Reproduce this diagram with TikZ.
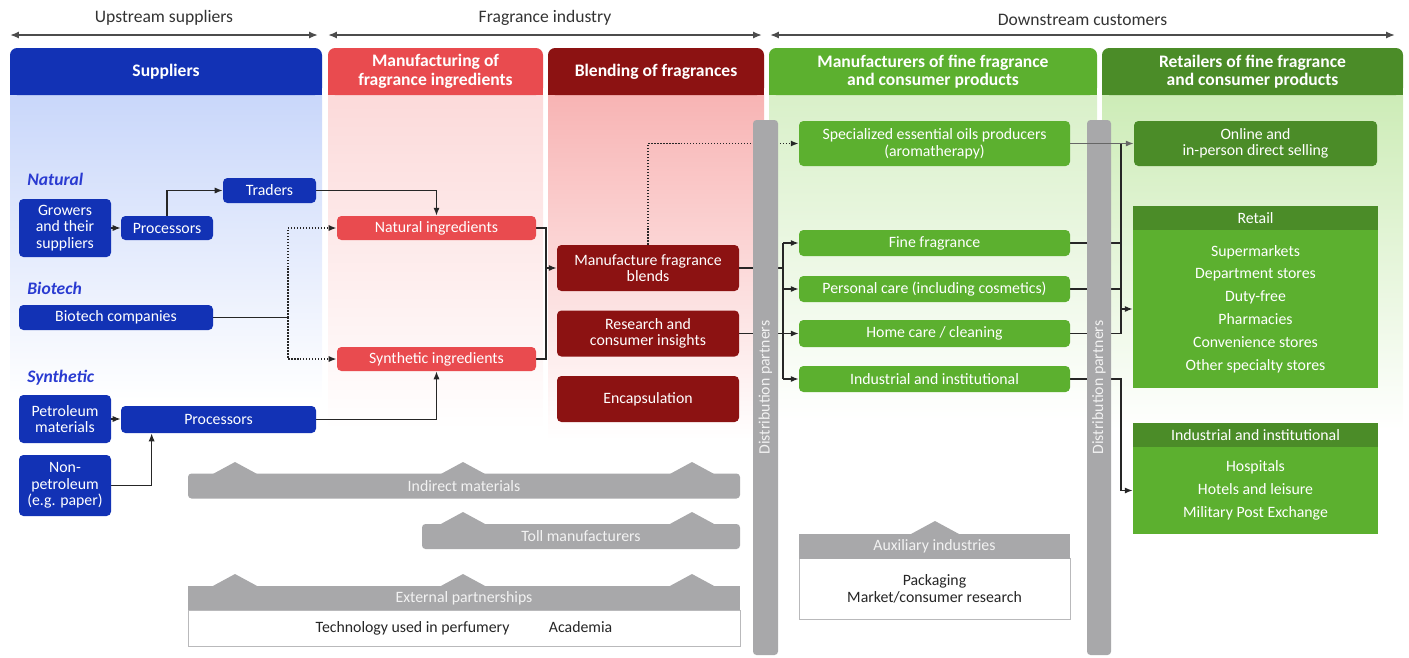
\documentclass[tikz,border=0pt]{standalone}
\usepackage{fontspec}
\setmainfont{Carlito}
\usepackage{tikz}
\usetikzlibrary{arrows.meta, positioning, backgrounds}
\definecolor{supplierBlue}{HTML}{1232B5}
\definecolor{ingredientRed}{HTML}{E94B4F}
\definecolor{blendRed}{HTML}{8C1212}
\definecolor{makerGreen}{HTML}{5CB02F}
\definecolor{retailGreen}{HTML}{4B8C28}
\definecolor{barGray}{HTML}{A8A8AA}
\definecolor{groupBlue}{HTML}{2A3BD1}
\definecolor{supplierTint}{HTML}{C9D7FA}
\definecolor{ingredientTint}{HTML}{FCDADA}
\definecolor{blendTint}{HTML}{F8B4B4}
\definecolor{makerTint}{HTML}{D9F0C9}
\definecolor{retailTint}{HTML}{CDECB7}
\newdimen\pxu \pxu=0.02cm
\newcommand\bodyfont{\fontsize{9}{9.5}\selectfont}
\newcommand\listfont{\fontsize{9}{13}\selectfont}
\newcommand\headfont{\fontsize{10}{10.5}\selectfont\bfseries}
\newcommand\groupfont{\fontsize{10}{12}\selectfont\bfseries\itshape}
\newcommand\spanfont{\fontsize{10}{12}\selectfont}
\pgfdeclarelayer{shade}
\pgfdeclarelayer{wires}
\pgfsetlayers{shade,wires,main}

\begin{document}
\begin{tikzpicture}[x=0.02cm, y=-0.02cm,
    box/.style 2 args={minimum width=#1\pxu, minimum height=#2\pxu, inner sep=0pt, align=center, text=white, rounded corners=2.5pt, font=\bodyfont},
    head/.style={minimum width=#1\pxu, minimum height=47\pxu, inner sep=0pt, align=center, text=white, rounded corners=4pt, font=\headfont},
    group/.style={anchor=west, inner sep=0pt, text=groupBlue, font=\groupfont},
    bar/.style 2 args={minimum width=#1\pxu, minimum height=#2\pxu, inner sep=0pt, fill=barGray, text=white!95!black, rounded corners=2pt, font=\bodyfont},
    panel/.style 2 args={minimum width=#1\pxu, minimum height=#2\pxu, inner sep=0pt, align=center, fill=white, draw=barGray!80, line width=0.5pt, text=black!85, font=\bodyfont},
    wire/.style={line width=0.7pt, black!85},
    arrow/.style={wire, -{Latex[length=4.5pt, width=3.5pt]}},
    dotarrow/.style={arrow, densely dotted, line width=0.9pt},
    span/.style={{Latex[length=5pt, width=4pt]}-{Latex[length=5pt, width=4pt]}, line width=1.4pt, black!70},
]
    \useasboundingbox (0,0) rectangle (1409,657);

    % spans over the chain
    \foreach \a/\b/\t in {10/318/Upstream suppliers, 328/762/Fragrance industry, 770/1395/Downstream customers}
        \draw[span] (\a,35) -- (\b,35) node[midway, above=1.5pt, font=\spanfont, text=black!80] {\t};

    % column headers
    \node[head=312, fill=supplierBlue] (suppliers) at (166,71.5) {Suppliers};
    \node[head=215, fill=ingredientRed] (ingredients) at (435.5,71.5) {Manufacturing of\\fragrance ingredients};
    \node[head=216, fill=blendRed] (blending) at (656,71.5) {Blending of fragrances};
    \node[head=328, fill=makerGreen] (makers) at (933,71.5) {Manufacturers of fine fragrance\\and consumer products};
    \node[head=301, fill=retailGreen] (retailers) at (1252.5,71.5) {Retailers of fine fragrance\\and consumer products};

    \begin{pgfonlayer}{shade}
        \fill[supplierBlue] (suppliers.west) rectangle (suppliers.south east);
        \fill[ingredientRed] (ingredients.west) rectangle (ingredients.south east);
        \fill[blendRed] (blending.west) rectangle (blending.south east);
        \fill[makerGreen] (makers.west) rectangle (makers.south east);
        \fill[retailGreen] (retailers.west) rectangle (retailers.south east);
        \shade[top color=supplierTint, bottom color=white] (10,95) rectangle (322,400);
        \shade[top color=ingredientTint, bottom color=white] (328,95) rectangle (543,430);
        \shade[top color=blendTint, bottom color=white] (548,95) rectangle (764,440);
        \shade[top color=makerTint, bottom color=white] (769,95) rectangle (1097,420);
        \shade[top color=retailTint, bottom color=white] (1102,95) rectangle (1403,430);
    \end{pgfonlayer}

    % suppliers
    \node[group] (natural) at (27,179) {Natural};
    \node[group] (biotechLbl) at (27,288) {Biotech};
    \node[group] (synthetic) at (27,378) {Synthetic};
    \node[box={92}{58}, fill=supplierBlue] (growers) at (65,228) {Growers\\and their\\suppliers};
    \node[box={92}{24}, fill=supplierBlue] (procNat) at (167,228) {Processors};
    \node[box={93}{25}, fill=supplierBlue] (traders) at (269.5,190.5) {Traders};
    \node[box={194}{25}, fill=supplierBlue] (biotech) at (116,317.5) {Biotech companies};
    \node[box={92}{48}, fill=supplierBlue] (petroleum) at (65,419) {Petroleum\\materials};
    \node[box={195}{27}, fill=supplierBlue] (procSyn) at (218.5,419.5) {Processors};
    \node[box={92}{61}, fill=supplierBlue] (nonpetro) at (65,485.5) {Non-\\petroleum\\(e.g. paper)};

    % ingredients and blending
    \node[box={199}{24}, fill=ingredientRed] (natIngr) at (436.5,228) {Natural ingredients};
    \node[box={199}{24}, fill=ingredientRed] (synIngr) at (436.5,359) {Synthetic ingredients};
    \node[box={182}{46}, fill=blendRed] (blends) at (648,268) {Manufacture fragrance\\blends};
    \node[box={182}{46}, fill=blendRed] (insights) at (648,333.5) {Research and\\consumer insights};
    \node[box={182}{46}, fill=blendRed] (encaps) at (648,399) {Encapsulation};

    % manufacturers
    \node[box={271}{45}, fill=makerGreen] (oils) at (934.5,143.5) {Specialized essential oils producers\\(aromatherapy)};
    \node[box={271}{26}, fill=makerGreen] (fine) at (934.5,243) {Fine fragrance};
    \node[box={271}{26}, fill=makerGreen] (personal) at (934.5,289) {Personal care (including cosmetics)};
    \node[box={271}{27}, fill=makerGreen] (homecare) at (934.5,333.5) {Home care / cleaning};
    \node[box={271}{26}, fill=makerGreen] (industrial) at (934.5,379) {Industrial and institutional};

    % retailers
    \node[box={243}{45}, fill=retailGreen] (online) at (1255.5,143.5) {Online and\\in-person direct selling};
    \node[box={245}{158}, fill=makerGreen, sharp corners, font=\listfont] (retailBody) at (1255.5,309) {Supermarkets\\Department stores\\Duty-free\\Pharmacies\\Convenience stores\\Other specialty stores};
    \node[box={245}{24}, fill=retailGreen, sharp corners] (retailHead) at (1255.5,218) {Retail};
    \node[box={245}{87}, fill=makerGreen, sharp corners, font=\listfont] (instBody) at (1255.5,490.5) {Hospitals\\Hotels and leisure\\Military Post Exchange};
    \node[box={245}{24}, fill=retailGreen, sharp corners] (instHead) at (1255.5,435) {Industrial and institutional};

    % distribution partners
    \node[bar={535}{25}, rotate=90] (distA) at (765.5,387.5) {Distribution partners};
    \node[bar={535}{24}, rotate=90] (distB) at (1099,387.5) {Distribution partners};

    % supporting industries
    \foreach \x in {235,463,692}
        \fill[barGray] (\x-24,475) -- (\x,462) -- (\x+24,475) -- cycle;
    \node[bar={552}{25}] (indirect) at (464,486) {Indirect materials};
    \foreach \x in {463,692}
        \fill[barGray] (\x-24,525) -- (\x,512) -- (\x+24,525) -- cycle;
    \node[bar={318}{25}] (toll) at (581,536.5) {Toll manufacturers};
    \foreach \x in {235,463,692}
        \fill[barGray] (\x-24,587) -- (\x,574) -- (\x+24,587) -- cycle;
    \node[panel={552}{36}] (extBody) at (464,628) {Technology used in perfumery\hspace{2.5em}Academia};
    \node[bar={552}{24}, sharp corners] (extHead) at (464,598) {External partnerships};
    \fill[barGray] (911,534) -- (935,521) -- (959,534) -- cycle;
    \node[panel={271}{61}] (auxBody) at (934.5,589) {Packaging\\Market/consumer research};
    \node[bar={271}{25}, sharp corners] (auxHead) at (934.5,546) {Auxiliary industries};

    \begin{pgfonlayer}{wires}
        \draw[arrow] (growers) -- (procNat);
        \draw[arrow] (procNat.north) |- (traders);
        \draw[arrow] (traders) -| (natIngr);
        \coordinate (bioJoin) at (288,317.5);
        \draw[wire] (biotech) -- (bioJoin);
        \draw[dotarrow] (bioJoin) |- (natIngr);
        \draw[dotarrow] (bioJoin) |- (synIngr);
        \draw[arrow] (petroleum) -- (petroleum -| procSyn.west);
        \draw[arrow] (nonpetro) -| ([xshift=31\pxu]procSyn.south west);
        \draw[arrow] (procSyn) -| (synIngr);
        \coordinate (ingrJoin) at (546,268);
        \draw[wire] (natIngr) -| (ingrJoin);
        \draw[wire] (synIngr) -| (ingrJoin);
        \draw[arrow] (ingrJoin) -- (blends);
        \draw[dotarrow] (blends) |- (oils);
        % to the manufacturers
        \coordinate (distJoin) at (783,300);
        \draw[wire] (blends) -- (blends -| distJoin);
        \draw[wire] (insights) -- (insights -| distJoin);
        \draw[wire] (distJoin |- fine) -- (distJoin |- industrial);
        \foreach \n in {fine,personal,homecare,industrial}
            \draw[arrow] (distJoin |- \n) -- (\n);
        % to the retailers
        \coordinate (retailJoin) at (1121,300);
        \foreach \n in {fine,personal,homecare}
            \draw[wire] (\n) -- (\n -| retailJoin);
        \draw[wire] (retailJoin |- online) -- (retailJoin |- homecare);
        \draw[arrow] (retailJoin |- retailBody) -- (retailBody);
        \draw[arrow] (industrial) -| (retailJoin |- instBody) -- (instBody);
    \end{pgfonlayer}
    \draw[arrow, black!60] (oils) -- (online);
\end{tikzpicture}
\end{document}
